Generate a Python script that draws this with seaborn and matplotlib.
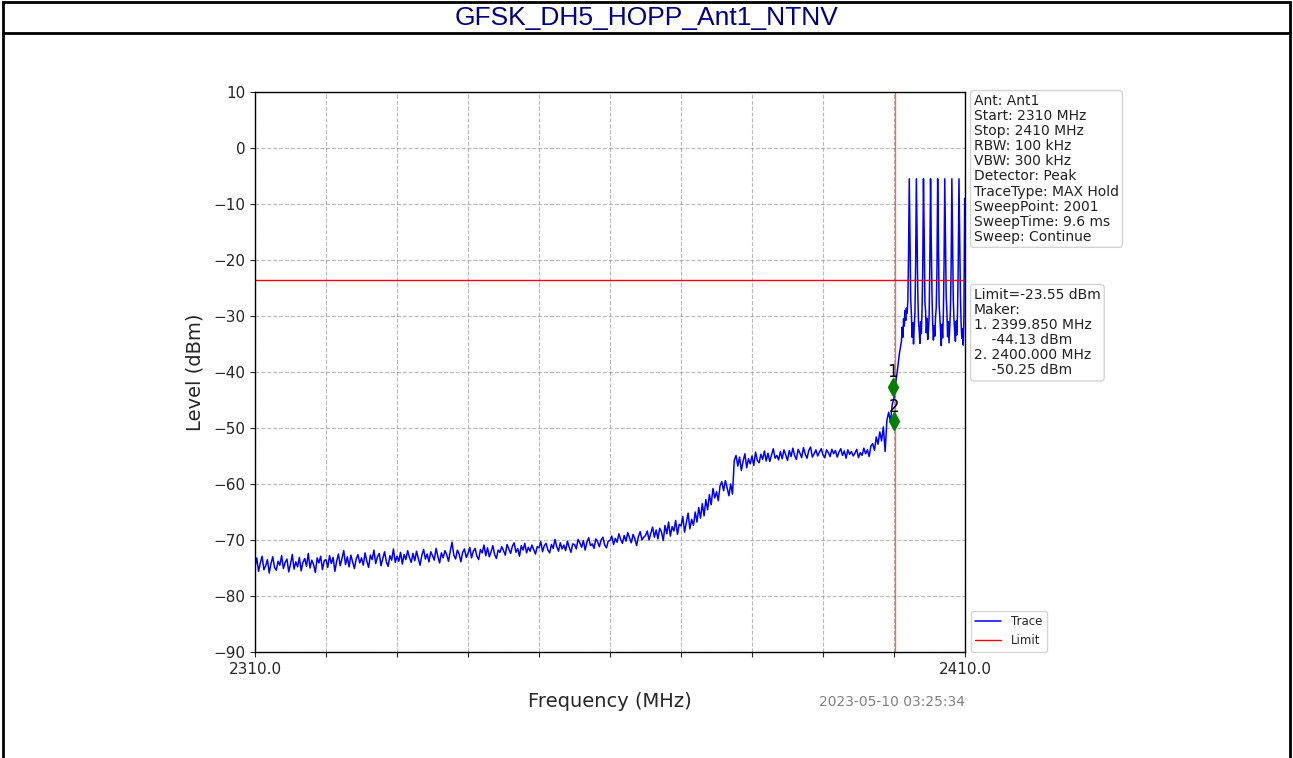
import numpy as np
import pandas as pd
import matplotlib
matplotlib.use("Agg")
import matplotlib.pyplot as plt
import seaborn as sns
from matplotlib.patches import Rectangle
from matplotlib.lines import Line2D

# ============================================
# DATA
# ============================================

title = "GFSK_DH5_HOPP_Ant1_NTNV"
stamp = "2023-05-10 03:25:34"

# noise floor 2310.00 - 2369.75 MHz, step 0.25
floor_start = 2310.0
floor_step = 0.25
floor_levels = [
    -74.8, -73.2, -75.6, -74.1, -72.9, -75.3, -74.6, -73.5, -75.9, -74.2, -73.0, -74.9, -75.4, -73.8, -74.5, -72.8, -75.1, -74.0, -73.4, -75.7,
    -74.3, -72.6, -75.2, -73.9, -74.8, -73.1, -75.5, -74.0, -73.3, -74.7, -72.4, -75.0, -73.6, -74.4, -75.8, -73.2, -74.1, -72.9, -75.3, -73.7,
    -73.5, -74.9, -72.8, -74.2, -73.1, -75.6, -73.8, -72.5, -74.6, -73.3, -71.9, -74.4, -73.0, -74.8, -72.7, -73.9, -75.1, -73.4, -72.6, -74.1,
    -73.2, -74.5, -72.3, -73.8, -74.9, -72.7, -73.5, -71.8, -74.2, -73.0, -72.4, -74.6, -73.3, -72.1, -73.9, -74.7, -72.8, -73.6, -71.6, -74.0,
    -72.9, -73.8, -72.2, -74.3, -72.6, -73.5, -71.9, -73.1, -74.0, -72.4, -73.7, -72.0, -73.3, -74.5, -72.7, -71.7, -73.4, -72.5, -73.9, -72.1,
    -72.8, -73.6, -71.5, -72.9, -74.1, -72.3, -73.2, -71.9, -72.6, -73.8, -72.0, -70.4, -72.7, -73.4, -71.8, -72.5, -73.9, -72.2, -71.6, -73.1,
    -72.4, -71.3, -73.2, -72.0, -71.5, -72.9, -73.5, -71.7, -72.3, -70.9, -72.8, -71.4, -73.0, -72.1, -71.0, -72.6, -73.3, -71.8, -72.2, -71.2,
    -71.9, -72.7, -70.8, -71.6, -72.4, -71.1, -70.5, -72.2, -71.5, -72.9, -71.0, -71.8, -70.6, -72.3, -71.3, -72.0, -70.9, -71.7, -72.5, -71.2,
    -71.4, -70.3, -72.1, -71.0, -70.6, -71.8, -72.3, -70.8, -71.5, -69.9, -71.2, -72.0, -70.5, -71.6, -70.9, -71.9, -70.2, -71.3, -72.2, -70.7,
    -70.8, -71.6, -69.9, -70.5, -71.3, -70.1, -71.8, -70.4, -69.6, -71.0, -70.7, -71.5, -69.8, -70.3, -71.2, -70.0, -69.5, -70.9, -71.4, -70.2,
    -70.1, -69.3, -70.8, -69.7, -70.4, -68.9, -69.9, -70.6, -69.2, -70.2, -68.7, -69.6, -70.5, -69.0, -69.8, -71.0, -69.4, -68.5, -70.0, -69.5,
    -69.2, -68.4, -70.0, -68.8, -67.7, -69.5, -68.2, -69.8, -67.9, -68.6, -70.1, -67.4, -68.9, -66.8, -69.3, -67.6, -68.4, -66.5, -69.0, -67.2,
]

# first step up 2370.00 - 2377.75 MHz
rise_start = 2370.0
rise_step = 0.25
rise_levels = [
    -67.5, -65.8, -68.6, -66.9, -65.2, -68.0, -66.3, -67.4,
    -65.0, -66.8, -64.2, -66.1, -63.5, -65.7, -62.8, -64.6,
    -61.9, -63.7, -60.8, -62.5, -61.4, -63.0, -60.3, -59.6,
    -61.2, -59.4, -60.7, -62.1, -60.0, -61.8, -55.8, -54.9,
]

# plateau 2378.00 - 2396.75 MHz
plateau_start = 2378.0
plateau_step = 0.25
plateau_levels = [
    -56.8, -55.2, -57.6, -55.9, -54.6, -57.1, -55.5, -56.4,
    -55.0, -56.7, -54.3, -55.8, -56.2, -54.7, -55.6, -54.1,
    -55.9, -54.5, -56.0, -54.8, -53.7, -55.4, -54.9, -55.7,
    -54.2, -55.5, -53.9, -54.8, -55.8, -54.0, -55.1, -53.6,
    -54.9, -55.6, -53.8, -54.5, -55.3, -53.5, -54.7, -55.4,
    -54.0, -53.4, -55.2, -54.6, -53.9, -55.0, -54.3, -53.7,
    -54.8, -55.3, -53.9, -54.4, -55.1, -53.8, -54.6, -54.0,
    -55.2, -54.3, -53.7, -54.9, -54.1, -55.4, -53.9, -54.7,
    -54.2, -55.0, -54.5, -53.8, -55.3, -54.4, -54.9, -53.6,
    -54.6, -53.9, -55.1, -53.2,
]

# band edge 2397.00 - 2400.75 MHz
edge_start = 2397.0
edge_step = 0.25
edge_levels = [
    -52.8, -54.0, -51.6, -52.9,
    -50.7, -52.3, -49.8, -54.2,
    -48.6, -47.2, -48.9, -45.8,
    -44.6, -41.9, -39.5, -36.8,
]

# hopping channels 2401.05 - 2409.95 MHz
hop_start = 2401.05
hop_step = 0.1
hop_levels = [
    -34.5, -32.0, -33.8, -30.5, -31.8, -29.0, -30.8, -28.6, -29.5, -27.2, -19.0,
    -5.5, -15.8, -26.9, -29.6, -33.8, -31.2, -35.0, -31.8, -29.4, -20.5,
    -5.5, -16.4, -25.8, -30.9, -32.6, -34.9, -31.0, -33.2, -28.8, -21.3,
    -5.5, -15.2, -27.4, -29.1, -33.0, -30.4, -34.2, -32.5, -29.9, -20.1,
    -5.5, -16.9, -26.2, -31.4, -34.3, -31.7, -33.6, -30.2, -28.5, -21.8,
    -5.5, -15.5, -27.8, -30.0, -32.4, -35.3, -31.5, -33.9, -29.7, -20.7,
    -5.5, -16.2, -26.5, -29.3, -33.7, -31.0, -34.8, -32.0, -28.9, -21.0,
    -5.5, -15.9, -27.1, -30.6, -32.8, -34.5, -30.9, -33.4, -29.2, -20.4,
    -5.5, -16.6, -26.0, -31.2, -34.0, -32.3, -35.2, -30.0, -9.0,
]

limit_level = -23.55
limit_freq = 2400.1

marker_freqs = [2399.85, 2400.0]
marker_levels = [-42.6, -48.8]
marker_names = ["1", "2"]

info_lines = [
    "Ant: Ant1",
    "Start: 2310 MHz",
    "Stop: 2410 MHz",
    "RBW: 100 kHz",
    "VBW: 300 kHz",
    "Detector: Peak",
    "TraceType: MAX Hold",
    "SweepPoint: 2001",
    "SweepTime: 9.6 ms",
    "Sweep: Continue",
]

marker_lines = [
    "Limit=-23.55 dBm",
    "Maker:",
    "1. 2399.850 MHz",
    "    -44.13 dBm",
    "2. 2400.000 MHz",
    "    -50.25 dBm",
]

x_ticks = [2310, 2320, 2330, 2340, 2350, 2360, 2370, 2380, 2390, 2400, 2410]
x_tick_labels = ["2310.0", "", "", "", "", "", "", "", "", "", "2410.0"]
y_ticks = [10, 0, -10, -20, -30, -40, -50, -60, -70, -80, -90]

# ============================================
# BUILD TRACE TABLE
# ============================================

segments = [
    (floor_start, floor_step, floor_levels),
    (rise_start, rise_step, rise_levels),
    (plateau_start, plateau_step, plateau_levels),
    (edge_start, edge_step, edge_levels),
    (hop_start, hop_step, hop_levels),
]

freq = []
level = []
for start, step, vals in segments:
    freq.extend(start + step * np.arange(len(vals)))
    level.extend(vals)

df = pd.DataFrame({"Frequency": freq, "Level": level})

# ============================================
# PLOT
# ============================================

sns.set_style("ticks")
plt.rcParams["font.family"] = ["DejaVu Sans"]

W, H = 1293, 758
fig = plt.figure(figsize=(W / 100, H / 100), dpi=100)

# outer frame and title bar
fig.add_artist(Rectangle((3 / W, -0.01), 1287 / W, 1 - 2 / H + 0.01,
                         transform=fig.transFigure, fill=False,
                         edgecolor="black", linewidth=2))
fig.add_artist(Line2D([3 / W, 1290 / W], [1 - 33 / H, 1 - 33 / H],
                      transform=fig.transFigure, color="black", linewidth=2))
fig.text(0.5, 1 - 18 / H, title, ha="center", va="center",
         fontsize=19, color="#000080", family="Liberation Sans")

ax = fig.add_axes([255 / W, 1 - 652 / H, 710 / W, 560 / H])

sns.lineplot(
    data=df,
    x="Frequency",
    y="Level",
    color="blue",
    linewidth=1.1,
    sort=False,
    estimator=None,
    label="Trace",
    ax=ax
)

ax.axhline(limit_level, color="red", linewidth=1, label="Limit")
ax.axvline(limit_freq, color="red", linewidth=1, alpha=0.6)

ax.plot(marker_freqs, marker_levels, "d", color="green", markersize=9,
        linestyle="none")
for f, l, n in zip(marker_freqs, marker_levels, marker_names):
    ax.text(f, l + 1.0, n, ha="center", va="bottom", fontsize=12,
            color="black")

ax.set_xlim(2310, 2410)
ax.set_ylim(-90, 10)
ax.set_xticks(x_ticks)
ax.set_xticklabels(x_tick_labels, fontsize=11)
ax.set_yticks(y_ticks)
ax.tick_params(axis="y", labelsize=11)
ax.grid(True, linestyle="--", color="gray", alpha=0.55, linewidth=0.8)

for s in ax.spines.values():
    s.set_visible(True)
    s.set_color("black")
    s.set_linewidth(1)

ax.set_xlabel("Frequency (MHz)", fontsize=14, labelpad=11)
ax.set_ylabel("Level (dBm)", fontsize=14, labelpad=6)

ax.text(1.0, -0.09, stamp, transform=ax.transAxes, ha="right", va="center",
        fontsize=10, color="gray")

box_style = dict(boxstyle="round,pad=0.25", facecolor="white",
                 edgecolor="lightgray", linewidth=1)
fig.text(974 / W, 1 - 94 / H, "\n".join(info_lines), ha="left", va="top",
         fontsize=10, color="#222222", bbox=box_style, linespacing=1.1)
fig.text(974 / W, 1 - 288 / H, "\n".join(marker_lines), ha="left", va="top",
         fontsize=10, color="#222222", bbox=box_style, linespacing=1.1)

ax.legend(loc="lower left", bbox_to_anchor=(1.008, 0.0), fontsize=8.5,
          frameon=True, borderaxespad=0.0, handlelength=2.2)

plt.savefig("out.png", dpi=100)
plt.close()
